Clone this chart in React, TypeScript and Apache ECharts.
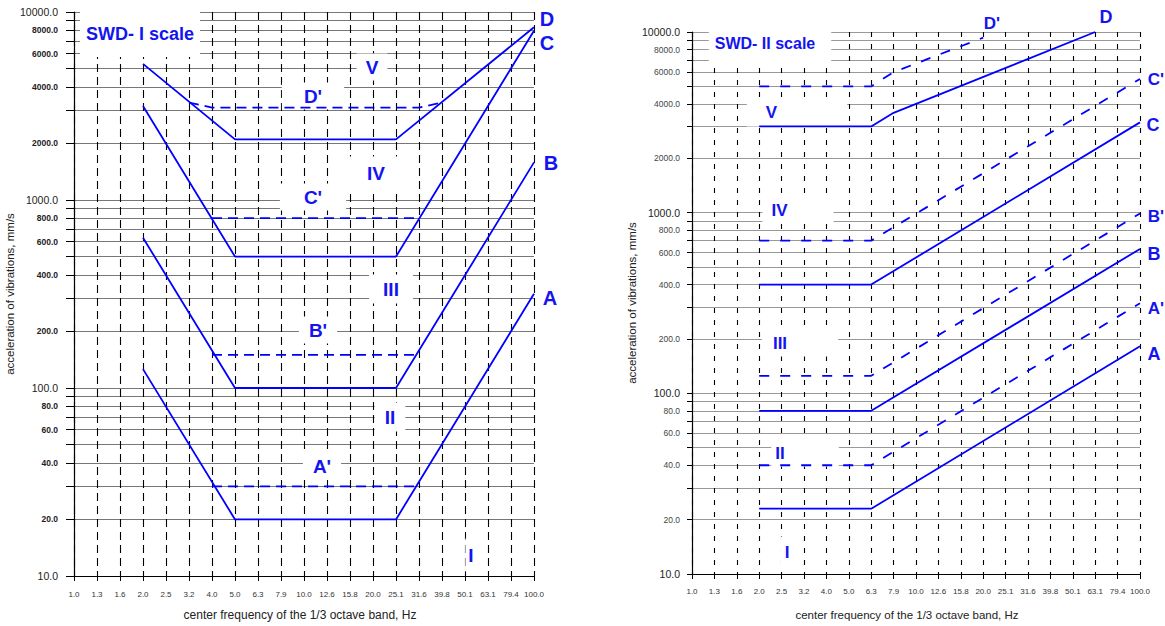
import React, { useEffect, useRef } from "react";
import * as echarts from "echarts";

// 1/3 octave band centre frequencies (x categories)
const freqBands = ["1.0", "1.3", "1.6", "2.0", "2.5", "3.2", "4.0", "5.0", "6.3", "7.9", "10.0", "12.6", "15.8", "20.0", "25.1", "31.6", "39.8", "50.1", "63.1", "79.4", "100.0"];

// y grid (tick) values and labelled values
const yGridValues = [10, 20, 30, 40, 50, 60, 70, 80, 90, 100, 200, 300, 400, 500, 600, 700, 800, 900, 1000, 2000, 3000, 4000, 5000, 6000, 7000, 8000, 9000, 10000];
const yLabelValues = [10, 20, 40, 60, 80, 100, 200, 400, 600, 800, 1000, 2000, 4000, 6000, 8000, 10000];
const yDecades = [10, 100, 1000, 10000];

// SWD-I scale curves
const swd1A = [["2.0", 126], ["5.0", 20], ["25.1", 20], ["100.0", 317]];
const swd1Ap = [["4.0", 30], ["31.6", 30]];
const swd1B = [["2.0", 630], ["5.0", 100], ["25.1", 100], ["100.0", 1585]];
const swd1Bp = [["4.0", 150], ["31.6", 150]];
const swd1C = [["2.0", 3160], ["5.0", 500], ["25.1", 500], ["100.0", 7950]];
const swd1Cp = [["4.0", 800], ["31.6", 800]];
const swd1D = [["2.0", 5300], ["5.0", 2100], ["25.1", 2100], ["100.0", 8300]];
const swd1Dp = [["3.2", 3300], ["4.0", 3100], ["31.6", 3100], ["39.8", 3300]];

// SWD-II scale curves
const swd2A = [["2.0", 23], ["6.3", 23], ["100.0", 182]];
const swd2Ap = [["2.0", 40], ["6.3", 40], ["100.0", 315]];
const swd2B = [["2.0", 80], ["6.3", 80], ["100.0", 630]];
const swd2Bp = [["2.0", 125], ["6.3", 125], ["100.0", 990]];
const swd2C = [["2.0", 400], ["6.3", 400], ["100.0", 3160]];
const swd2Cp = [["2.0", 700], ["6.3", 700], ["100.0", 5500]];
const swd2D = [["2.0", 3000], ["6.3", 3000], ["7.9", 3570], ["63.1", 10000]];
const swd2Dp = [["2.0", 5000], ["6.3", 5000], ["7.9", 6000], ["20.0", 9300]];

const FONT = '"Liberation Sans", Arial, sans-serif';
const BLUE = "#0000ff";
const LBLUE = "#1414f0";

function makeX(gridIndex: number, dash: number[], labelMargin: number) {
  return {
    type: "category",
    gridIndex,
    data: freqBands,
    boundaryGap: false,
    name: "center frequency of the 1/3 octave band, Hz",
    nameLocation: "middle",
    nameGap: gridIndex === 0 ? 33 : 35,
    nameTextStyle: {
      fontSize: gridIndex === 0 ? 12 : 11.5,
      color: "#222",
      fontFamily: FONT,
      padding: gridIndex === 0 ? [0, 8, 0, 0] : [0, 18, 0, 0],
    },
    axisLine: { show: true, lineStyle: { color: "#000", width: 1.2 } },
    axisTick: { show: true, length: 5, inside: false, alignWithLabel: true, interval: 0, lineStyle: { color: "#000" } },
    axisLabel: { show: true, interval: 0, fontSize: 8, color: "#333", margin: labelMargin, fontFamily: FONT },
    splitLine: { show: true, interval: 0, lineStyle: { color: "#000", width: 1.1, type: dash } },
  };
}

function makeY(gridIndex: number, left: boolean) {
  return {
    type: "log",
    logBase: 10,
    gridIndex,
    min: 10,
    max: 10000,
    name: "acceleration of vibrations, mm/s",
    nameLocation: "middle",
    nameGap: left ? 54 : 49,
    nameTextStyle: { fontSize: 11.5, color: "#222", fontFamily: FONT },
    axisLine: { show: true, lineStyle: { color: "#000", width: 1.2 } },
    axisTick: { show: true, length: left ? 8 : 5, customValues: yGridValues, lineStyle: { color: "#000" } },
    axisLabel: {
      show: true,
      customValues: yLabelValues,
      margin: left ? 16 : 12,
      fontFamily: FONT,
      formatter: (v: number) => {
        const s = Number(v).toFixed(1);
        return yDecades.indexOf(Math.round(v)) >= 0 ? `{big|${s}}` : `{small|${s}}`;
      },
      rich: {
        big: { fontSize: 10.5, color: "#222", fontFamily: FONT },
        small: left
          ? { fontSize: 8.5, fontWeight: "bold", color: "#222", fontFamily: FONT }
          : { fontSize: 8.5, color: "#444", fontFamily: FONT },
      },
    },
    splitLine: { show: true, lineStyle: { color: left ? "#777" : "#999", width: 1 } },
  };
}

function line(data: any[], grid: number, dashed: boolean, dash: number[]) {
  return {
    type: "line",
    xAxisIndex: grid,
    yAxisIndex: grid,
    data,
    symbol: "none",
    showSymbol: false,
    silent: true,
    z: 3,
    lineStyle: { color: BLUE, width: 1.8, type: dashed ? dash : "solid" },
  };
}

// x = centre of the white box (text + padding)
function label(text: string, x: number, y: number, size: number, padding: number[]) {
  return {
    type: "text",
    x,
    y,
    z: 1,
    silent: true,
    style: {
      text,
      fill: LBLUE,
      font: `bold ${size}px ${FONT}`,
      align: "center",
      verticalAlign: "middle",
      backgroundColor: "#fff",
      padding,
    },
  };
}

export default function App() {
  const ref = useRef<HTMLDivElement>(null);
  useEffect(() => {
    if (!ref.current) return;
    const chart = echarts.init(ref.current, null, { renderer: "svg" });
    const d1 = [10, 6];
    const d2 = [10, 11];
    chart.setOption({
      animation: false,
      backgroundColor: "#fff",
      textStyle: { fontFamily: FONT },
      grid: [
        { left: 74, top: 12, width: 460, height: 566, containLabel: false },
        { left: 692, top: 32, width: 448, height: 550, containLabel: false },
      ],
      xAxis: [makeX(0, [8, 5], 14), makeX(1, [5, 7], 13)],
      yAxis: [makeY(0, true), makeY(1, false)],
      series: [
        line(swd1A, 0, false, d1),
        line(swd1Ap, 0, true, d1),
        line(swd1B, 0, false, d1),
        line(swd1Bp, 0, true, d1),
        line(swd1C, 0, false, d1),
        line(swd1Cp, 0, true, d1),
        line(swd1D, 0, false, d1),
        line(swd1Dp, 0, true, d1),
        line(swd2A, 1, false, d2),
        line(swd2Ap, 1, true, d2),
        line(swd2B, 1, false, d2),
        line(swd2Bp, 1, true, d2),
        line(swd2C, 1, false, d2),
        line(swd2Cp, 1, true, d2),
        line(swd2D, 1, false, d2),
        line(swd2Dp, 1, true, d2),
      ],
      graphic: [
        // SWD-I
        label("SWD- I scale", 140, 34, 18, [14, 6]),
        label("V", 372, 67, 19, [4, 9]),
        label("D'", 313, 96, 19, [4, 22]),
        label("IV", 376, 173, 19, [7, 22]),
        label("C'", 313, 197, 19, [4, 24]),
        label("III", 391, 289, 19, [5, 14]),
        label("B'", 318, 330, 19, [4, 10]),
        label("II", 390, 417, 19, [5, 10]),
        label("A'", 322, 466, 19, [4, 10]),
        label("I", 474, 555, 19, [7, 9, 7, 3]),
        label("D", 547, 19, 20, [0, 2]),
        label("C", 547, 43, 20, [0, 2]),
        label("B", 551, 163, 20, [0, 2]),
        label("A", 550, 298, 20, [0, 2]),
        // SWD-II
        label("SWD- II scale", 770, 43, 16, [12, 16, 12, 6]),
        label("V", 797, 112, 17, [6, 70, 6, 19]),
        label("IV", 798, 210, 17, [5, 46, 5, 9]),
        label("III", 800, 343, 17, [5, 51, 5, 11]),
        label("II", 805, 453, 17, [5, 54, 5, 4]),
        label("I", 789, 552, 17, [7, 8, 7, 4]),
        label("D'", 992, 23, 17, [0, 2]),
        label("D", 1106, 17, 18, [0, 2]),
        label("C'", 1156, 79, 17, [0, 1]),
        label("C", 1153, 125, 18, [0, 1]),
        label("B'", 1156, 216, 17, [0, 1]),
        label("B", 1154, 254, 18, [0, 1]),
        label("A'", 1156, 308, 17, [0, 1]),
        label("A", 1154, 354, 18, [0, 1]),
      ],
    });
    return () => chart.dispose();
  }, []);
  return (
    <div
      ref={ref}
      style={{ position: "absolute", left: 0, top: 0, width: 1165, height: 626, background: "#fff" }}
    />
  );
}
